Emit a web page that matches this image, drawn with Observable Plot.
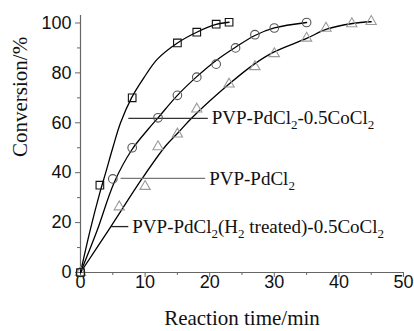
<!DOCTYPE html>
<html>
<head>
<meta charset="utf-8">
<script src="https://cdn.jsdelivr.net/npm/d3@7"></script>
<script src="https://cdn.jsdelivr.net/npm/@observablehq/plot@0.6"></script>
<style>
  html, body { margin: 0; padding: 0; background: #fff; }
  #chart svg { display: block; }
</style>
</head>
<body>
<div id="chart"></div>
<script>
// ---- measured data ----
const sqT = [0, 3, 8, 15, 18, 21, 23];
const sqC = [0, 35, 70, 92, 96.3, 99.5, 100.3];
const ciT = [0, 5, 8, 12, 15, 18, 21, 24, 27, 30, 35];
const ciC = [0, 37.5, 50, 62, 71, 78.3, 83.5, 90, 95.3, 98, 100.2];
const trT = [0, 6, 10, 12, 15, 18, 23, 27, 30, 35, 38, 42, 45];
const trC = [0, 26.3, 34.5, 50.4, 55.5, 65.5, 75.5, 82.5, 87.7, 93.9, 97.9, 99.7, 100.6];

// fitted curves
const sqFitT = [0, 1.5, 3, 3.9, 5, 6.2, 7.9, 9.8, 11.9, 15, 18, 21, 23];
const sqFitC = [0, 17, 32, 40, 50, 60, 70, 78, 85.5, 92, 96.3, 99.4, 100.3];
const ciFitT = [0, 2.6, 5.2, 7.9, 10.5, 12, 15, 18, 21, 24, 27, 30, 35];
const ciFitC = [0, 17, 36, 49, 57.5, 62, 71, 78.5, 85, 90.3, 95, 98, 100.2];
const trFitT = [0, 4.6, 9.5, 13.2, 15.2, 17.3, 23, 26.9, 29.9, 35, 38.1, 42.1, 45];
const trFitC = [0, 18, 37.5, 50.8, 56.3, 62.1, 75.5, 83.5, 88.3, 93.8, 97.5, 99.8, 100.5];

// annotation labels (leader start, leader end, y level, label text)
const labelText = ["PVP-PdCl_2-0.5CoCl_2", "PVP-PdCl_2", "PVP-PdCl_2(H_2 treated)-0.5CoCl_2"];
const leadX1 = [7.4, 6.2, 4.6];
const leadX2 = [19.7, 19.3, 7.4];
const leadY = [61.8, 37.7, 18.4];
const leadColor = ["#333", "#777", "#222"];

const xTicks = [0, 10, 20, 30, 40, 50];
const xMinor = [5, 15, 25, 35, 45];
const yTicks = [0, 20, 40, 60, 80, 100];
const yMinor = [10, 30, 50, 70, 90];

const xTitle = "Reaction time/min";
const yTitle = "Conversion/%";

// ---- build tables ----
const zip = (T, C) => T.map((t, i) => ({t, c: C[i]}));
const squares = zip(sqT, sqC), circles = zip(ciT, ciC), triangles = zip(trT, trC);
const sqFit = zip(sqFitT, sqFitC), ciFit = zip(ciFitT, ciFitC), trFit = zip(trFitT, trFitC);
const labels = labelText.map((s, i) => ({s, x1: leadX1[i], x2: leadX2[i], y: leadY[i], col: leadColor[i]}));

const serif = "'Liberation Serif', 'Times New Roman', Times, serif";
const sans = "'Liberation Sans', Arial, Helvetica, sans-serif";
const axisGray = "#666";

const chart = Plot.plot({
  width: 414,
  height: 331,
  marginLeft: 80,
  marginRight: 11,
  marginTop: 15,
  marginBottom: 59,
  style: {background: "#fff", overflow: "visible"},
  x: {domain: [0, 50]},
  y: {domain: [0, 103]},
  marks: [
    // axes
    Plot.axisX({ticks: xMinor, tickSize: 3, tickFormat: () => "", stroke: axisGray, label: null}),
    Plot.axisX({ticks: xTicks, tickSize: 5, tickPadding: -2, stroke: axisGray, fill: "#111",
      fontSize: 18, fontFamily: sans, label: null}),
    Plot.axisY({ticks: yMinor, tickSize: 3, tickFormat: () => "", stroke: axisGray, label: null}),
    Plot.axisY({ticks: yTicks, tickSize: 5, tickPadding: 4, stroke: axisGray, fill: "#111",
      fontSize: 18, fontFamily: sans, label: null}),
    Plot.ruleY([0], {stroke: axisGray, strokeWidth: 1.2}),
    Plot.ruleX([0], {stroke: axisGray, strokeWidth: 1.2}),
    // titles
    Plot.text([xTitle], {frameAnchor: "bottom", dy: 52, fontFamily: serif, fontSize: 21, fill: "#111"}),
    Plot.text([yTitle], {frameAnchor: "left", rotate: -90, dx: -60, dy: 13, fontFamily: serif, fontSize: 21, fill: "#111"}),
    // fitted curves
    Plot.line(sqFit, {x: "t", y: "c", curve: "catmull-rom", stroke: "#000", strokeWidth: 1.3}),
    Plot.line(ciFit, {x: "t", y: "c", curve: "catmull-rom", stroke: "#000", strokeWidth: 1.3}),
    Plot.line(trFit, {x: "t", y: "c", curve: "catmull-rom", stroke: "#000", strokeWidth: 1.3}),
    // leader lines
    Plot.link(labels, {x1: "x1", x2: "x2", y1: "y", y2: "y", stroke: "col", strokeWidth: 1.3}),
    // markers
    Plot.dot(triangles, {x: "t", y: "c", symbol: "triangle", r: 3.8, stroke: "#9a9a9a", strokeWidth: 1.1, fill: "none"}),
    Plot.dot(circles, {x: "t", y: "c", symbol: "circle", r: 4.3, stroke: "#555", strokeWidth: 1.1, fill: "none"}),
    Plot.dot(squares, {x: "t", y: "c", symbol: "square", r: 4.3, stroke: "#111", strokeWidth: 1.1, fill: "none"}),
    // label texts
    Plot.text(labels, {x: "x2", y: "y", text: "s", textAnchor: "start", dx: 4, fontFamily: serif, fontSize: 19, fill: "#111"})
  ]
});

// render subscripts ("_2") as real subscript tspans
d3.select(chart).selectAll("text").each(function() {
  const s = this.textContent;
  if (!s || s.indexOf("_") < 0) return;
  const parts = s.split(/_(\d)/);
  const el = d3.select(this);
  el.text(null);
  let shifted = false;
  parts.forEach((p, i) => {
    if (p === "") return;
    const sub = i % 2 === 1;
    const ts = el.append("tspan").text(p);
    if (sub) { ts.attr("font-size", 13).attr("dy", shifted ? 0 : 5); shifted = true; }
    else if (shifted) { ts.attr("dy", -5); shifted = false; }
  });
});

document.getElementById("chart").appendChild(chart);
</script>
</body>
</html>
